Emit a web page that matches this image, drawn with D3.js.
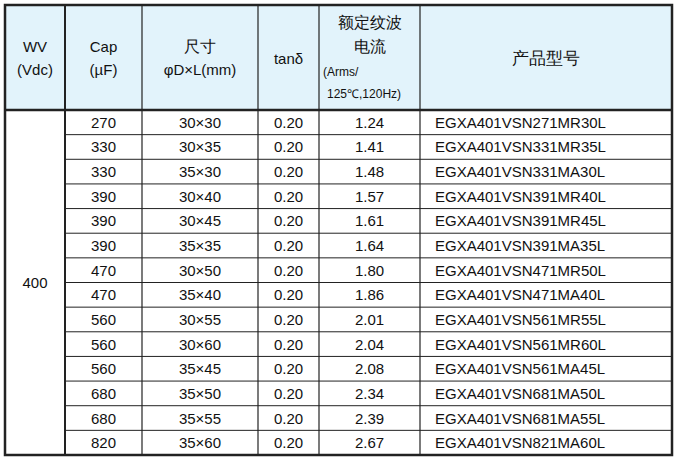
<!DOCTYPE html><html><head><meta charset="utf-8"><script src="https://cdn.jsdelivr.net/npm/d3@7"></script>
<style>body{margin:0;background:#fff}</style></head><body><svg id="c" width="678" height="460"></svg>
<script>
const caps=["270","330","330","390","390","390","470","470","560","560","560","680","680","820"];
const sizes=["30×30","30×35","35×30","30×40","30×45","35×35","30×50","35×40","30×55","30×60","35×45","35×50","35×55","35×60"];
const tans=["0.20","0.20","0.20","0.20","0.20","0.20","0.20","0.20","0.20","0.20","0.20","0.20","0.20","0.20"];
const ripple=["1.24","1.41","1.48","1.57","1.61","1.64","1.80","1.86","2.01","2.04","2.08","2.34","2.39","2.67"];
const models=["EGXA401VSN271MR30L","EGXA401VSN331MR35L","EGXA401VSN331MA30L","EGXA401VSN391MR40L","EGXA401VSN391MR45L","EGXA401VSN391MA35L","EGXA401VSN471MR50L","EGXA401VSN471MA40L","EGXA401VSN561MR55L","EGXA401VSN561MR60L","EGXA401VSN561MA45L","EGXA401VSN681MA50L","EGXA401VSN681MA55L","EGXA401VSN821MA60L"];
const wv="400";
(function(){
const svg=d3.select("#c");
const colX=[5,65,142,258,319,420,672];
const tp=5,hb=110,bot=455;
const y=d3.scaleBand().domain(d3.range(caps.length)).range([hb,bot]);
const F="'Liberation Sans Narrow','Liberation Sans',Arial,sans-serif";
svg.append("rect").attr("x",5).attr("y",tp).attr("width",667).attr("height",hb-tp).attr("fill","#e2f3fb");
y.domain().slice(1).forEach(i=>svg.append("line").attr("x1",colX[1]).attr("x2",colX[6]).attr("y1",y(i)).attr("y2",y(i)).attr("stroke","#222").attr("stroke-width",1));
colX.slice(1,6).forEach(x=>svg.append("line").attr("x1",x).attr("x2",x).attr("y1",tp).attr("y2",bot).attr("stroke","#222").attr("stroke-width",x===65?2:1.2));
svg.append("line").attr("x1",5).attr("x2",672).attr("y1",hb).attr("y2",hb).attr("stroke","#222").attr("stroke-width",2.5);
svg.append("rect").attr("x",5).attr("y",tp).attr("width",667).attr("height",bot-tp).attr("fill","none").attr("stroke","#222").attr("stroke-width",2.5);
const g=svg.append("g").attr("font-family",F).attr("fill","#111");
const cx=i=>(colX[i]+colX[i+1])/2;
function t(x,yy,s,opt={}){return g.append("text").attr("x",x).attr("y",yy).attr("text-anchor",opt.a||"middle").attr("font-size",opt.fs||15).text(s);}
t(cx(0),52,"WV");t(cx(0),75,"(Vdc)");
t(cx(1),52,"Cap");t(cx(1),75,"(µF)");
t(cx(2),52,"尺寸",{fs:16});t(cx(2),75,"φD×L(mm)");
t(cx(3),64,"tanδ");
t(cx(4),28,"额定纹波",{fs:16});t(cx(4),52,"电流",{fs:16});
t(323,76,"(Arms/",{a:"start",fs:12});t(327,98,"125℃,120Hz)",{a:"start",fs:12});
t(cx(5),64,"产品型号",{fs:17});
const bw=y.bandwidth();
caps.forEach((c,i)=>{
 const yy=y(i)+bw/2+5.5;
 t(cx(1),yy,c);t(cx(2),yy,sizes[i]);t(cx(3),yy,tans[i]);t(cx(4),yy,ripple[i]);
 t(435,yy,models[i],{a:"start"});
});
t(cx(0),(hb+bot)/2+5,wv);
})();
</script></body></html>
